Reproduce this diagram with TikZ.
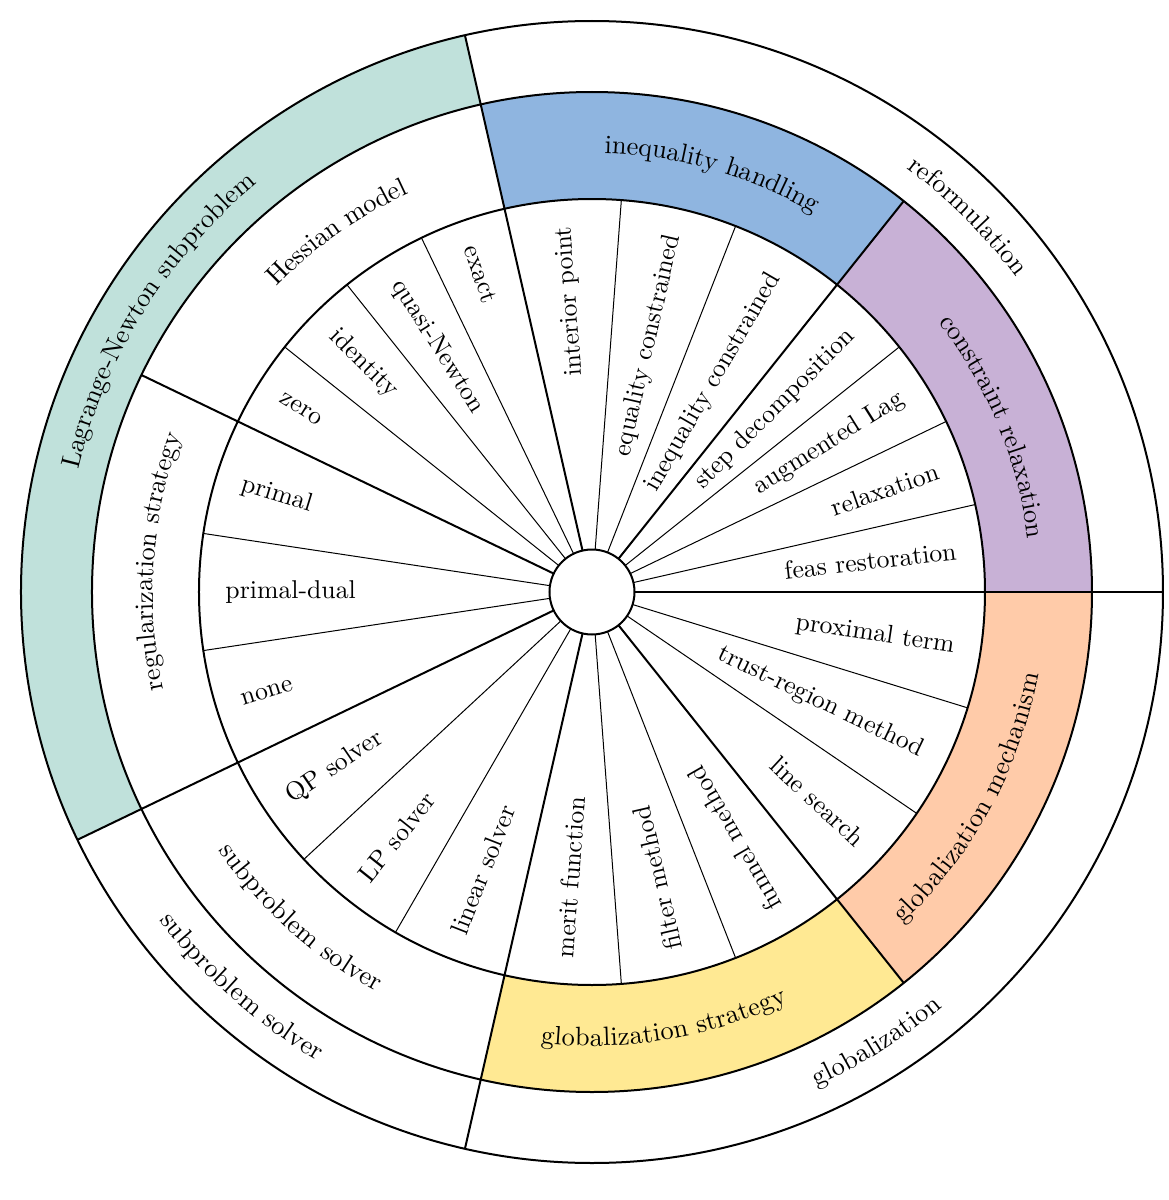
\documentclass[tikz,border=0pt]{standalone}
\usetikzlibrary{decorations.text}
\definecolor{cblue}{HTML}{8FB5E0}
\definecolor{cpurple}{HTML}{C8B1D6}
\definecolor{cpeach}{HTML}{FFCBA9}
\definecolor{cyellow}{HTML}{FFE993}
\definecolor{cteal}{HTML}{C0E1DB}
\newcommand\sector[5]{\fill[#1] (#2:#4) -- (#2:#5) arc[start angle=#2,end angle=#3,radius=#5] -- (#3:#4) arc[start angle=#3,end angle=#2,radius=#4] -- cycle;}
\newcommand\cwlab[3]{\path[decorate,decoration={text along path,text align=center,raise=-3pt,text={|\fontsize{10.6}{12}\selectfont|#3}}] ({#1+45}:#2) arc[start angle={#1+45},end angle={#1-45},radius=#2];}
\newcommand\ccwlab[3]{\path[decorate,decoration={text along path,text align=center,raise=-3pt,text={|\fontsize{10.6}{12}\selectfont|#3}}] ({#1-45}:#2) arc[start angle={#1-45},end angle={#1+45},radius=#2];}
\begin{document}
\begin{tikzpicture}[thk/.style={line width=0.8pt},thn/.style={line width=0.4pt},
 nl/.style={anchor=east,inner sep=2pt,font=\fontsize{10.3}{12}\selectfont},fl/.style={anchor=west,inner sep=2pt,font=\fontsize{10.3}{12}\selectfont}]
\useasboundingbox (-236.8pt,-243.2pt) rectangle (230.8pt,236.8pt);
% fills
\sector{cteal}{102.857}{205.714}{200pt}{228.4pt}
\sector{cpurple}{0}{51.429}{157.2pt}{200pt}
\sector{cblue}{51.429}{102.857}{157.2pt}{200pt}
\sector{cyellow}{257.143}{308.571}{157.2pt}{200pt}
\sector{cpeach}{308.571}{360}{157.2pt}{200pt}
% circles
\draw[thk] (0,0) circle (228.4pt);
\draw[thk] (0,0) circle (200pt);
\draw[thk] (0,0) circle (157.2pt);
% group lines
\foreach \a in {0,51.429,102.857,154.286,205.714,257.143,308.571}
  \draw[thk] (\a:17pt) -- (\a:200pt);
\foreach \a in {0,102.857,205.714,257.143}
  \draw[thk] (\a:200pt) -- (\a:228.4pt);
% item lines
\foreach \a in {12.857,25.714,38.571,115.714,128.571,141.429}
  \draw[thn] (\a:17pt) -- (\a:157.2pt);
\foreach \g in {51.429,154.286,205.714,257.143,308.571}
  \foreach \d in {17.143,34.286}
    \draw[thn] ({\g+\d}:17pt) -- ({\g+\d}:157.2pt);
\filldraw[thk,fill=white] (0,0) circle (17pt);
% inner labels, normal
\foreach \a/\t [count=\i] in {6.429/feas restoration,19.286/relaxation,32.143/augmented Lag,45/step decomposition,60/inequality constrained,77.143/equality constrained,94.286/interior point,317.143/line search,334.286/trust-region method,351.429/proximal term}
  \node[nl,rotate=\a] (n\i) at (\a:148.8pt) {\t};
% inner labels, flipped
\foreach \a/\t [count=\i] in {109.286/exact,122.143/quasi-Newton,135/identity,147.857/zero,162.857/primal,180/primal-dual,197.143/none,214.286/QP solver,231.429/LP solver,248.571/linear solver,265.714/merit function,282.857/filter method,300/funnel method}
  \node[fl,rotate=\a-180] (f\i) at (\a:148.8pt) {\t};
% middle ring labels
\cwlab{22.4}{178.6pt}{constraint relaxation}
\cwlab{74}{178.6pt}{inequality handling}
\cwlab{125.3}{178.6pt}{Hessian model}
\cwlab{176}{178.6pt}{regularization strategy}
\ccwlab{228.2}{178.6pt}{subproblem solver}
\ccwlab{279.5}{178.6pt}{globalization strategy}
\ccwlab{331.3}{178.6pt}{globalization mechanism}
% outer ring labels
\cwlab{45}{214.2pt}{reformulation}
\cwlab{148}{214.2pt}{Lagrange-Newton subproblem}
\ccwlab{228.4}{214.2pt}{subproblem solver}
\ccwlab{302.3}{214.2pt}{globalization}
\end{tikzpicture}
\end{document}
